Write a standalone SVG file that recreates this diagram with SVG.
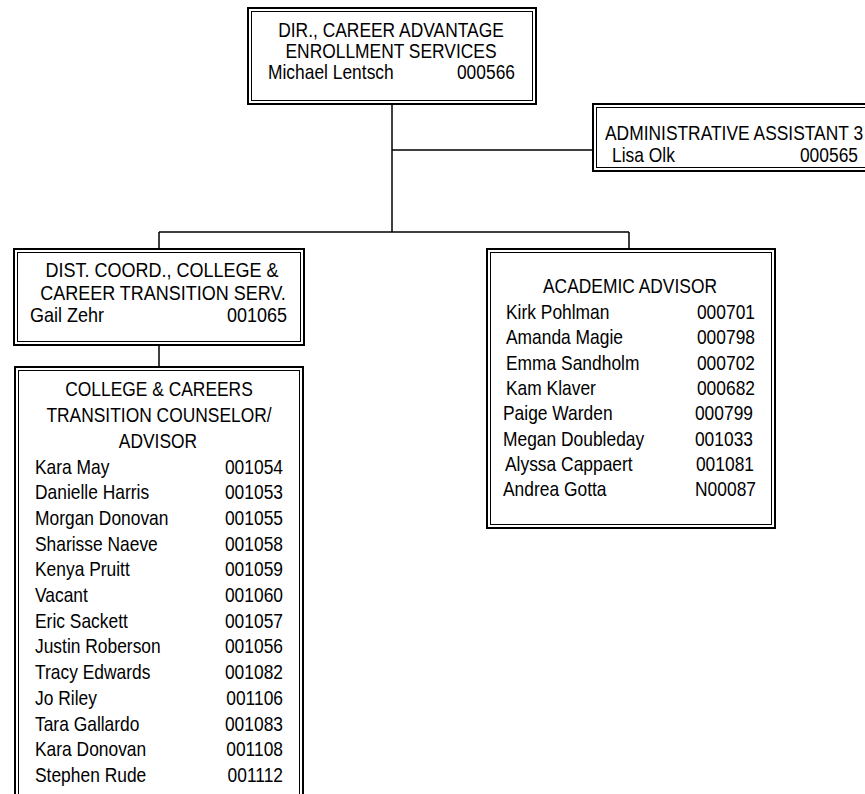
<svg xmlns="http://www.w3.org/2000/svg" width="865" height="794" viewBox="0 0 865 794">
<style>
.o{fill:none;stroke:#000;stroke-width:2}
.i{fill:none;stroke:#000;stroke-width:1}
.c{fill:none;stroke:#000;stroke-width:1.5}
text{font-family:"Liberation Sans",Arial,sans-serif;font-size:17.4px;fill:#000}
.m{text-anchor:middle}
.e{text-anchor:end}
</style>
<rect width="865" height="794" fill="#fff"/>
<g id="connectors">
<path class="c" d="M392 104V232M392 150H592M159 232H629M159 232V249M629 232V249M159 345V366"/>
</g>
<g id="dir">
<rect class="o" x="248" y="8" width="288" height="96"/>
<rect class="i" x="251.5" y="11.5" width="281" height="89"/>
<text class="m" transform="matrix(1 0 0 1.12 391 37)">DIR., CAREER ADVANTAGE</text>
<text class="m" transform="matrix(1 0 0 1.12 391 57.5)">ENROLLMENT SERVICES</text>
<text transform="matrix(1 0 0 1.12 268 78.5)">Michael Lentsch</text>
<text class="e" transform="matrix(1 0 0 1.12 515 78.5)">000566</text>
</g>
<g id="admin">
<rect class="o" x="593" y="104" width="290" height="67"/>
<rect class="i" x="596.5" y="107.5" width="283" height="60"/>
<text transform="matrix(1 0 0 1.12 605 140)">ADMINISTRATIVE ASSISTANT 3</text>
<text transform="matrix(1 0 0 1.12 612 161.5)">Lisa Olk</text>
<text class="e" transform="matrix(1 0 0 1.12 858 161.5)">000565</text>
</g>
<g id="dist">
<rect class="o" x="14" y="249" width="290" height="96"/>
<rect class="i" x="17.5" y="252.5" width="283" height="89"/>
<text class="m" style="font-size:18px" transform="matrix(1 0 0 1.08 162 277)">DIST. COORD., COLLEGE &amp;</text>
<text class="m" style="font-size:18px" transform="matrix(1 0 0 1.08 163 300)">CAREER TRANSITION SERV.</text>
<text style="font-size:18px" transform="matrix(1 0 0 1.08 30 322)">Gail Zehr</text>
<text class="e" style="font-size:18px" transform="matrix(1 0 0 1.08 287 322)">001065</text>
</g>
<g id="academic">
<rect class="o" x="487" y="249" width="288" height="279"/>
<rect class="i" x="490.5" y="252.5" width="281" height="272"/>
<text class="m" transform="matrix(1 0 0 1.12 630 293)">ACADEMIC ADVISOR</text>
<text transform="matrix(1 0 0 1.12 506 319)">Kirk Pohlman</text>
<text class="e" transform="matrix(1 0 0 1.12 755 319)">000701</text>
<text transform="matrix(1 0 0 1.12 506 344.3)">Amanda Magie</text>
<text class="e" transform="matrix(1 0 0 1.12 755 344.3)">000798</text>
<text transform="matrix(1 0 0 1.12 506 369.6)">Emma Sandholm</text>
<text class="e" transform="matrix(1 0 0 1.12 755 369.6)">000702</text>
<text transform="matrix(1 0 0 1.12 506 394.9)">Kam Klaver</text>
<text class="e" transform="matrix(1 0 0 1.12 755 394.9)">000682</text>
<text transform="matrix(1 0 0 1.12 503 420.2)">Paige Warden</text>
<text class="e" transform="matrix(1 0 0 1.12 753 420.2)">000799</text>
<text transform="matrix(1 0 0 1.12 503 445.5)">Megan Doubleday</text>
<text class="e" transform="matrix(1 0 0 1.12 753 445.5)">001033</text>
<text transform="matrix(1 0 0 1.12 505 470.8)">Alyssa Cappaert</text>
<text class="e" transform="matrix(1 0 0 1.12 754 470.8)">001081</text>
<text transform="matrix(1 0 0 1.12 503 496.1)">Andrea Gotta</text>
<text class="e" transform="matrix(1 0 0 1.12 756 496.1)">N00087</text>
</g>
<g id="counselor">
<rect class="o" x="15" y="367" width="288" height="440"/>
<rect class="i" x="18.5" y="370.5" width="281" height="430"/>
<text class="m" transform="matrix(1 0 0 1.12 159 396.4)">COLLEGE &amp; CAREERS</text>
<text class="m" transform="matrix(1 0 0 1.12 159 422.1)">TRANSITION COUNSELOR/</text>
<text class="m" transform="matrix(1 0 0 1.12 158 447.8)">ADVISOR</text>
<text transform="matrix(1 0 0 1.12 35 473.5)">Kara May</text>
<text class="e" transform="matrix(1 0 0 1.12 283 473.5)">001054</text>
<text transform="matrix(1 0 0 1.12 35 499.2)">Danielle Harris</text>
<text class="e" transform="matrix(1 0 0 1.12 283 499.2)">001053</text>
<text transform="matrix(1 0 0 1.12 35 524.9)">Morgan Donovan</text>
<text class="e" transform="matrix(1 0 0 1.12 283 524.9)">001055</text>
<text transform="matrix(1 0 0 1.12 35 550.6)">Sharisse Naeve</text>
<text class="e" transform="matrix(1 0 0 1.12 283 550.6)">001058</text>
<text transform="matrix(1 0 0 1.12 35 576.3)">Kenya Pruitt</text>
<text class="e" transform="matrix(1 0 0 1.12 283 576.3)">001059</text>
<text transform="matrix(1 0 0 1.12 35 602)">Vacant</text>
<text class="e" transform="matrix(1 0 0 1.12 283 602)">001060</text>
<text transform="matrix(1 0 0 1.12 35 627.7)">Eric Sackett</text>
<text class="e" transform="matrix(1 0 0 1.12 283 627.7)">001057</text>
<text transform="matrix(1 0 0 1.12 35 653.4)">Justin Roberson</text>
<text class="e" transform="matrix(1 0 0 1.12 283 653.4)">001056</text>
<text transform="matrix(1 0 0 1.12 35 679.1)">Tracy Edwards</text>
<text class="e" transform="matrix(1 0 0 1.12 283 679.1)">001082</text>
<text transform="matrix(1 0 0 1.12 35 704.8)">Jo Riley</text>
<text class="e" transform="matrix(1 0 0 1.12 283 704.8)">001106</text>
<text transform="matrix(1 0 0 1.12 35 730.5)">Tara Gallardo</text>
<text class="e" transform="matrix(1 0 0 1.12 283 730.5)">001083</text>
<text transform="matrix(1 0 0 1.12 35 756.2)">Kara Donovan</text>
<text class="e" transform="matrix(1 0 0 1.12 283 756.2)">001108</text>
<text transform="matrix(1 0 0 1.12 35 781.9)">Stephen Rude</text>
<text class="e" transform="matrix(1 0 0 1.12 283 781.9)">001112</text>
</g>
</svg>
